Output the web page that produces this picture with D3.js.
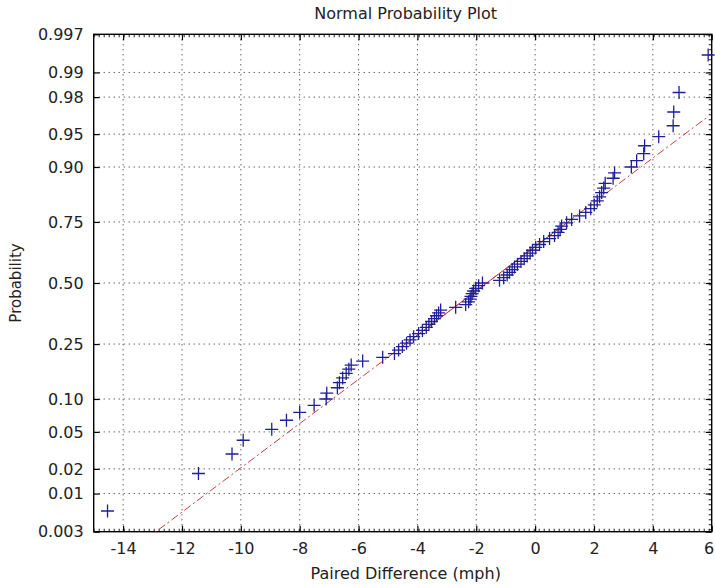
<!DOCTYPE html>
<html>
<head>
<meta charset="utf-8">
<script src="https://cdn.jsdelivr.net/npm/d3@7"></script>
<style>
body { margin: 0; background: #fff; }
svg { display: block; font-family: "DejaVu Sans", sans-serif; }
</style>
</head>
<body>
<div id="chart"></div>
<script>
// paired differences (mph), sorted
var diffs = [
    -14.53, -11.44, -10.30, -9.92, -8.95, -8.45, -8.00, -7.51, -7.10, -7.08,
    -6.72, -6.65, -6.54, -6.42, -6.33, -6.25, -5.86, -5.18, -4.78, -4.64,
    -4.51, -4.37, -4.25, -4.13, -3.96, -3.83, -3.70, -3.61, -3.52, -3.42,
    -3.35, -3.28, -3.21, -2.70, -2.36, -2.26, -2.21, -2.18, -2.14, -2.09,
    -2.02, -1.92, -1.79, -1.21, -1.07, -0.95, -0.87, -0.78, -0.70, -0.60,
    -0.48, -0.37, -0.27, -0.17, -0.09, 0.02, 0.15, 0.29, 0.49, 0.66,
    0.78, 0.85, 0.90, 1.07, 1.24, 1.51, 1.72, 1.89, 2.01, 2.11,
    2.19, 2.26, 2.33, 2.38, 2.65, 2.70, 3.27, 3.45, 3.69, 3.72,
    4.20, 4.69, 4.71, 4.89, 5.88
];

var xTicks = [-14, -12, -10, -8, -6, -4, -2, 0, 2, 4, 6];
var probTicks = [0.003, 0.01, 0.02, 0.05, 0.10, 0.25, 0.50, 0.75, 0.90, 0.95, 0.98, 0.99, 0.997];
var probLabels = ["0.003", "0.01", "0.02", "0.05", "0.10", "0.25", "0.50", "0.75", "0.90", "0.95", "0.98", "0.99", "0.997"];

var svgWidth = 715;
var svgHeight = 588;
var margin = {top: 34.3, right: 3.3, bottom: 56.3, left: 93.7};
var width = svgWidth - margin.left - margin.right;
var height = svgHeight - margin.top - margin.bottom;

// inverse normal cdf (Acklam)
function norminv(p) {
    var a = [-3.969683028665376e+01, 2.209460984245205e+02, -2.759285104469687e+02, 1.383577518672690e+02, -3.066479806614716e+01, 2.506628277459239e+00];
    var b = [-5.447609879822406e+01, 1.615858368580409e+02, -1.556989798598866e+02, 6.680131188771972e+01, -1.328068155288572e+01];
    var c = [-7.784894002430293e-03, -3.223964580411365e-01, -2.400758277161838e+00, -2.549671509223650e+00, 4.374641481524362e+00, 2.938163982698783e+00];
    var d = [7.784695709041462e-03, 3.224671290700398e-01, 2.445134137142996e+00, 3.754408661907416e+00];
    var plow = 0.02425, q, r;
    if (p < plow) {
        q = Math.sqrt(-2 * Math.log(p));
        return (((((c[0]*q+c[1])*q+c[2])*q+c[3])*q+c[4])*q+c[5]) / ((((d[0]*q+d[1])*q+d[2])*q+d[3])*q+1);
    } else if (p <= 1 - plow) {
        q = p - 0.5; r = q * q;
        return (((((a[0]*r+a[1])*r+a[2])*r+a[3])*r+a[4])*r+a[5])*q / (((((b[0]*r+b[1])*r+b[2])*r+b[3])*r+b[4])*r+1);
    }
    q = Math.sqrt(-2 * Math.log(1 - p));
    return -(((((c[0]*q+c[1])*q+c[2])*q+c[3])*q+c[4])*q+c[5]) / ((((d[0]*q+d[1])*q+d[2])*q+d[3])*q+1);
}

// matlab style percentile on sorted data
function prctile(sorted, pct) {
    var n = sorted.length;
    var pos = n * pct / 100 + 0.5;
    if (pos <= 1) return sorted[0];
    if (pos >= n) return sorted[n - 1];
    var lo = Math.floor(pos);
    return sorted[lo - 1] + (pos - lo) * (sorted[lo] - sorted[lo - 1]);
}

var n = diffs.length;
var points = diffs.map((v, i) => ({x: v, z: norminv((i + 0.5) / n)}));

var x = d3.scaleLinear().domain([-15, 6]).range([0, width]);
var y = d3.scaleLinear().domain([norminv(0.003), norminv(0.997)]).range([height, 0]);

// reference line through the quartiles, extended to the data range
var q1x = prctile(diffs, 25), q3x = prctile(diffs, 75);
var q1y = norminv(0.25), q3y = norminv(0.75);
var slope = (q3y - q1y) / (q3x - q1x);
var cx = (q1x + q3x) / 2, cy = (q1y + q3y) / 2;
var minx = d3.min(diffs), maxx = d3.max(diffs);
var fullLine = [[minx, cy + slope * (minx - cx)], [maxx, cy + slope * (maxx - cx)]];
var quartLine = [[q1x, q1y], [q3x, q3y]];

var svg = d3.select("#chart")
    .append("svg")
    .attr("width", svgWidth)
    .attr("height", svgHeight);

svg.append("defs").append("clipPath")
    .attr("id", "clip")
    .append("rect")
    .attr("width", width)
    .attr("height", height);

var chart = svg.append("g")
    .attr("transform", `translate(${margin.left}, ${margin.top})`);

// grid
var grid = chart.append("g")
    .attr("stroke", "#222")
    .attr("stroke-width", 1)
    .attr("stroke-dasharray", "1,4");

grid.selectAll(".vgrid")
    .data(xTicks.filter(d => d < 6))
    .enter()
    .append("line")
    .attr("x1", d => x(d)).attr("x2", d => x(d))
    .attr("y1", 0).attr("y2", height);

grid.selectAll(".hgrid")
    .data(probTicks.slice(1, -1))
    .enter()
    .append("line")
    .attr("x1", 0).attr("x2", width)
    .attr("y1", d => y(norminv(d))).attr("y2", d => y(norminv(d)));

// grid lines that sit on the box edges
var edge = chart.append("g")
    .attr("stroke", "#222")
    .attr("stroke-width", 3)
    .attr("stroke-dasharray", "1,4");
edge.append("line").attr("x1", 0).attr("x2", width).attr("y1", height - 1.5).attr("y2", height - 1.5);
edge.append("line").attr("x1", 0).attr("x2", width).attr("y1", 1.5).attr("y2", 1.5);
edge.append("line").attr("x1", x(6) - 1.5).attr("x2", x(6) - 1.5).attr("y1", 0).attr("y2", height);

// axes
var zTicks = probTicks.map(norminv);

var bottomAxis = d3.axisBottom(x).tickValues(xTicks).tickFormat(d => String(d)).tickSizeInner(-6).tickSizeOuter(0).tickPadding(11);
var topAxis = d3.axisTop(x).tickValues(xTicks).tickFormat("").tickSizeInner(-6).tickSizeOuter(0);
var leftAxis = d3.axisLeft(y).tickValues(zTicks).tickFormat((d, i) => probLabels[i]).tickSizeInner(-6).tickSizeOuter(0).tickPadding(10);
var rightAxis = d3.axisRight(y).tickValues(zTicks).tickFormat("").tickSizeInner(-6).tickSizeOuter(0);

var xAxisG = chart.append("g").attr("transform", `translate(0, ${height})`).call(bottomAxis);
chart.append("g").call(topAxis);
chart.append("g").call(leftAxis);
chart.append("g").attr("transform", `translate(${width}, 0)`).call(rightAxis);

chart.selectAll(".domain").remove();
chart.selectAll(".tick line").attr("stroke", "#000").attr("stroke-width", 1.2);
chart.selectAll(".tick text")
    .attr("fill", "#222")
    .style("font-family", "'DejaVu Sans', sans-serif")
    .style("font-size", "16px");

// the last x label sits on the window edge, nudge it in
xAxisG.selectAll(".tick text").filter(d => d === 6).attr("dx", -3);

chart.append("rect")
    .attr("width", width)
    .attr("height", height)
    .attr("fill", "none")
    .attr("stroke", "#000")
    .attr("stroke-width", 1.4);

// fit lines
var line = d3.line().x(d => x(d[0])).y(d => y(d[1]));
var lines = chart.append("g").attr("clip-path", "url(#clip)");

lines.append("path")
    .attr("d", line(fullLine))
    .attr("fill", "none")
    .attr("stroke", "#cc3a3a")
    .attr("stroke-width", 1)
    .attr("stroke-dasharray", "8,3,2,3");

lines.append("path")
    .attr("d", line(quartLine))
    .attr("fill", "none")
    .attr("stroke", "#cc3a3a")
    .attr("stroke-width", 1);

// data markers
chart.append("g")
    .selectAll(".pt")
    .data(points)
    .enter()
    .append("path")
    .classed("pt", true)
    .attr("transform", d => `translate(${x(d.x)}, ${y(d.z)})`)
    .attr("d", "M-6.5,0H6.5M0,-6.5V6.5")
    .attr("stroke", "#1f1f9a")
    .attr("stroke-width", 1.3)
    .attr("fill", "none");

// labels
svg.append("text")
    .attr("x", margin.left + width / 2 + 3)
    .attr("y", 18.5)
    .attr("text-anchor", "middle")
    .attr("fill", "#222")
    .style("font-size", "16px")
    .text("Normal Probability Plot");

svg.append("text")
    .attr("x", margin.left + width / 2 + 3)
    .attr("y", 579)
    .attr("text-anchor", "middle")
    .attr("fill", "#222")
    .style("font-size", "16px")
    .text("Paired Difference (mph)");

svg.append("text")
    .attr("transform", `translate(21, ${margin.top + height / 2}) rotate(-90)`)
    .attr("text-anchor", "middle")
    .attr("fill", "#222")
    .style("font-size", "15px")
    .text("Probability");
</script>
</body>
</html>
